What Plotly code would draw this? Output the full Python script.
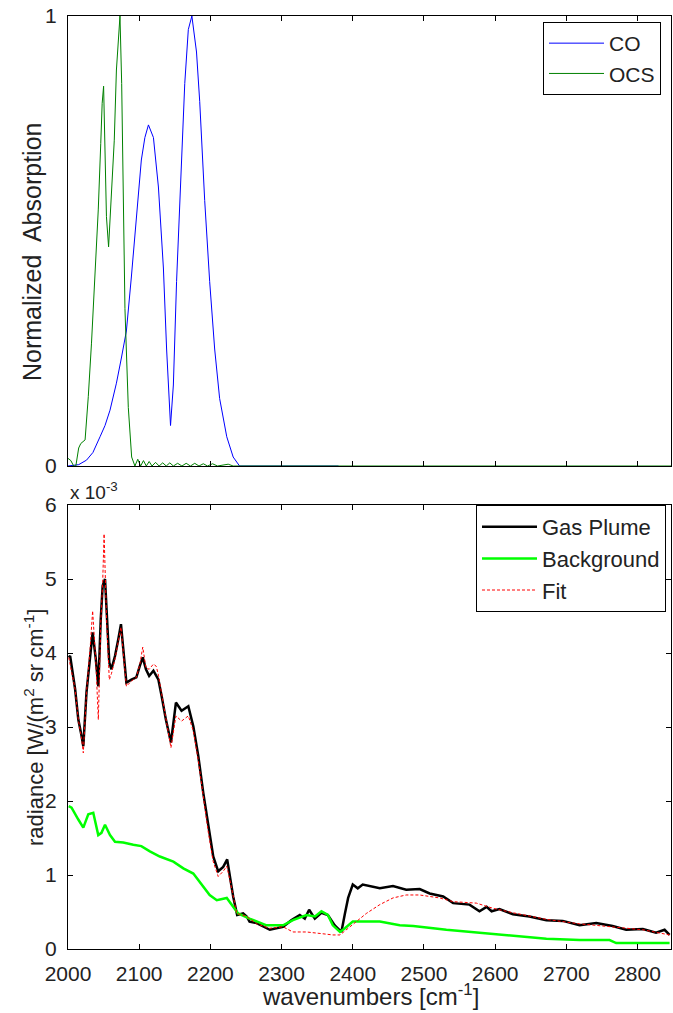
import plotly.graph_objects as go

# ---------------- Top panel data (normalized absorption) ----------------
co_wn = [2000, 2015, 2026, 2035, 2045, 2052, 2059, 2068, 2075, 2082, 2089, 2096, 2103, 2108,
         2113, 2120, 2127, 2134, 2138.5, 2144, 2148, 2152.5, 2159.5, 2164, 2169, 2174, 2180.5,
         2185, 2192, 2199, 2206, 2213, 2223, 2232, 2241, 2380]
co_abs = [0, 0.003, 0.013, 0.03, 0.065, 0.09, 0.124, 0.184, 0.24, 0.30, 0.42, 0.554, 0.68, 0.73,
          0.758, 0.73, 0.62, 0.44, 0.26, 0.09, 0.18, 0.41, 0.665, 0.85, 0.97, 1.0, 0.92,
          0.81, 0.59, 0.41, 0.26, 0.15, 0.065, 0.02, 0.0, 0.0]

ocs_wn = [2000, 2004, 2008, 2011, 2015, 2018, 2024, 2028.5, 2033, 2038, 2042.5, 2046, 2048, 2050,
          2052, 2054, 2057, 2060, 2062, 2065, 2068, 2070.6, 2073, 2075.4, 2077.7, 2080, 2084.7,
          2089.4, 2094, 2098, 2102, 2106, 2110, 2114, 2118, 2123, 2128, 2133, 2138, 2143, 2148,
          2154, 2160, 2166, 2172, 2178, 2184, 2190, 2196, 2203, 2210, 2225, 2232, 2847]
ocs_abs = [0.017, 0.012, 0, 0, 0.04, 0.05, 0.058, 0.154, 0.273, 0.42, 0.569, 0.717, 0.806, 0.844,
           0.717, 0.554, 0.487, 0.584, 0.658, 0.724, 0.88, 0.947, 1.0, 0.85, 0.6, 0.35, 0.13,
           0.02, 0, 0.015, 0, 0.012, 0, 0.01, 0, 0.008, 0, 0.007, 0, 0.007, 0,
           0.006, 0, 0.006, 0, 0.006, 0, 0.005, 0, 0.005, 0, 0.004, 0, 0]

# ---------------- Bottom panel data (radiance, x 10^-3) ----------------
plume_wn = [2001, 2003, 2010, 2014.5, 2019, 2021.5, 2026, 2031, 2034.6, 2039, 2042.6, 2046, 2048.7,
            2052, 2054, 2058, 2061, 2066, 2070.7, 2074.4, 2077.7, 2082, 2089, 2096, 2101, 2105,
            2109.5, 2114, 2120, 2127, 2131.5, 2137.5, 2144.6, 2151.6, 2159.5, 2169, 2176, 2183,
            2190, 2197, 2204, 2211, 2218, 2223.6, 2227, 2232, 2237.6, 2246, 2251, 2255, 2265,
            2283.5, 2302, 2314, 2325.6, 2332.6, 2338.7, 2346.7, 2356, 2365, 2374.7, 2384, 2389,
            2393.5, 2400, 2407, 2414, 2428.5, 2438, 2456.5, 2475, 2494, 2508, 2527, 2541, 2564,
            2578, 2588, 2595, 2606, 2625, 2648, 2672, 2695, 2718.6, 2742, 2765, 2784, 2807.5,
            2826, 2838, 2845]
plume_rad = [3.94, 3.96, 3.51, 3.10, 2.88, 2.74, 3.47, 4.0, 4.28, 3.92, 3.55, 4.46, 4.91,
             5.0, 4.55, 3.87, 3.78, 3.96, 4.19, 4.39, 4.05, 3.60, 3.64, 3.67, 3.83, 3.94,
             3.78, 3.69, 3.76, 3.64, 3.42, 3.10, 2.79, 3.33, 3.22, 3.28, 3.01, 2.61,
             2.11, 1.66, 1.25, 1.05, 1.11, 1.21, 0.98, 0.71, 0.46, 0.48, 0.44, 0.37, 0.35,
             0.26, 0.30, 0.39, 0.46, 0.41, 0.53, 0.41, 0.49, 0.46, 0.32, 0.23, 0.48,
             0.69, 0.87, 0.82, 0.87, 0.84, 0.82, 0.85, 0.80, 0.81, 0.75, 0.71, 0.62, 0.60,
             0.51, 0.57, 0.51, 0.54, 0.47, 0.44, 0.39, 0.38, 0.32, 0.35, 0.31, 0.26, 0.27,
             0.22, 0.26, 0.19]

bg_wn = [2001, 2005, 2014.5, 2021.5, 2028.5, 2035.5, 2042.5, 2047, 2052, 2059, 2066, 2077.6,
         2091.7, 2103, 2115, 2129, 2148, 2162, 2176, 2190, 2199, 2209, 2223, 2232, 2239, 2255,
         2279, 2302, 2316, 2335, 2347, 2356, 2365, 2372, 2382, 2389, 2400, 2419, 2438, 2466,
         2485, 2531.5, 2578, 2625, 2672, 2718.6, 2760.7, 2770, 2812, 2845]
bg_rad = [1.93, 1.91, 1.75, 1.64, 1.82, 1.84, 1.54, 1.57, 1.68, 1.54, 1.45, 1.44,
          1.41, 1.39, 1.32, 1.25, 1.18, 1.09, 1.02, 0.84, 0.73, 0.66, 0.69, 0.57, 0.48, 0.41,
          0.32, 0.32, 0.39, 0.46, 0.44, 0.51, 0.46, 0.32, 0.23, 0.28, 0.37, 0.37, 0.37, 0.32,
          0.31, 0.26, 0.22, 0.18, 0.14, 0.12, 0.12, 0.08, 0.08, 0.08]

fit_wn = [2001, 2010, 2014.5, 2019, 2021.5, 2026, 2031, 2034.6, 2039, 2042.6, 2046, 2048.7,
          2050.7, 2054, 2058, 2061, 2066, 2070.7, 2074.4, 2077.7, 2082, 2089, 2096, 2101, 2105,
          2109.5, 2114, 2120, 2124, 2127, 2131.5, 2137.5, 2144.6, 2151.6, 2159.5, 2169, 2176,
          2183, 2190, 2197, 2204, 2211, 2218, 2223, 2227, 2232, 2237, 2251, 2265, 2283, 2302,
          2316, 2335, 2354, 2372, 2382, 2391, 2405, 2419, 2438, 2456.5, 2475, 2494, 2522, 2541,
          2573.6, 2597, 2625, 2672, 2718.6, 2765, 2807.5, 2845]
fit_rad = [3.94, 3.51, 3.10, 2.85, 2.65, 3.47, 4.05, 4.57, 3.90, 3.10, 4.4, 4.95,
           5.61, 4.5, 3.64, 3.72, 3.92, 4.15, 4.35, 4.0, 3.55, 3.62, 3.67, 3.85, 4.08,
           3.80, 3.78, 3.85, 3.82, 3.70, 3.45, 3.10, 2.72, 3.15, 3.08, 3.15, 2.95,
           2.55, 2.05, 1.58, 1.18, 0.98, 1.05, 1.12, 0.95, 0.70, 0.48, 0.44, 0.34, 0.28, 0.30,
           0.23, 0.23, 0.21, 0.19, 0.19, 0.26, 0.37, 0.48, 0.60, 0.69, 0.73, 0.73, 0.69, 0.64,
           0.62, 0.55, 0.49, 0.40, 0.34, 0.30, 0.26, 0.19]

x_ticks = [2000, 2100, 2200, 2300, 2400, 2500, 2600, 2700, 2800]
rad_ticks = [0, 1, 2, 3, 4, 5, 6]

FONT = "Liberation Sans, Arial, sans-serif"
TXT = "#222222"

# layout geometry (pixels)
W, H = 673, 1013
ML, MR, MT, MB = 68, 2, 16, 64
PW = W - ML - MR
PH = H - MT - MB


def px_x(px):
    return (px - ML) / PW


def px_y(py):
    return (H - MB - py) / PH


fig = go.Figure()
fig.add_trace(go.Scatter(x=co_wn, y=co_abs, name="CO", mode="lines",
                         line=dict(color="#0000FF", width=1), xaxis="x", yaxis="y", legend="legend"))
fig.add_trace(go.Scatter(x=ocs_wn, y=ocs_abs, name="OCS", mode="lines",
                         line=dict(color="#008000", width=1), xaxis="x", yaxis="y", legend="legend"))

fig.add_trace(go.Scatter(x=plume_wn, y=plume_rad, name="Gas Plume", mode="lines",
                         line=dict(color="black", width=2.5), xaxis="x2", yaxis="y2", legend="legend2"))
fig.add_trace(go.Scatter(x=bg_wn, y=bg_rad, name="Background", mode="lines",
                         line=dict(color="#00FF00", width=2.5), xaxis="x2", yaxis="y2", legend="legend2"))
fig.add_trace(go.Scatter(x=fit_wn, y=fit_rad, name="Fit", mode="lines",
                         line=dict(color="#FF0000", width=1, dash="3px,2px"), xaxis="x2", yaxis="y2",
                         legend="legend2"))

axis_common = dict(showline=True, linecolor="black", linewidth=1, mirror="allticks",
                   ticks="inside", ticklen=5, tickcolor="black", showgrid=False, zeroline=False,
                   automargin=False, ticklabelstandoff=6,
                   tickfont=dict(family=FONT, size=21, color=TXT))

top_bottom = px_y(466)
bot_top = px_y(505)

fig.update_layout(
    width=W, height=H,
    margin=dict(l=ML, r=MR, t=MT, b=MB),
    paper_bgcolor="white", plot_bgcolor="white",
    font=dict(family=FONT, size=20, color=TXT),
    showlegend=True,
    xaxis=dict(domain=[0, 1], range=[2000, 2847], tickvals=x_ticks, showticklabels=False,
               anchor="y", **axis_common),
    yaxis=dict(domain=[top_bottom, 1], range=[0, 1], tickvals=[0, 1], anchor="x", **axis_common),
    xaxis2=dict(domain=[0, 1], range=[2000, 2847], tickvals=x_ticks, anchor="y2", **axis_common),
    yaxis2=dict(domain=[0, bot_top], range=[0, 6], tickvals=rad_ticks, anchor="x2", **axis_common),
    legend=dict(x=px_x(543), y=px_y(22), xanchor="left", yanchor="top",
                bgcolor="white", bordercolor="black", borderwidth=1,
                font=dict(family=FONT, size=21, color=TXT), tracegroupgap=0, itemwidth=55),
    legend2=dict(x=px_x(476), y=bot_top, xanchor="left", yanchor="top",
                 bgcolor="white", bordercolor="black", borderwidth=1,
                 font=dict(family=FONT, size=22, color=TXT), tracegroupgap=0, itemwidth=55),
    annotations=[
        dict(text="x 10<sup>-3</sup>", x=0, y=bot_top, xref="paper", yref="paper",
             xanchor="left", yanchor="bottom", showarrow=False, yshift=0,
             font=dict(family=FONT, size=19, color=TXT)),
        dict(text="Normalized  Absorption", x=px_x(32), y=px_y(252), xref="paper", yref="paper",
             xanchor="center", yanchor="middle", textangle=-90, showarrow=False,
             font=dict(family=FONT, size=25, color=TXT)),
        dict(text="radiance [W/(m<sup>2</sup> sr cm<sup>-1</sup>]", x=px_x(34), y=px_y(728),
             xref="paper", yref="paper", xanchor="center", yanchor="middle", textangle=-90,
             showarrow=False, font=dict(family=FONT, size=22, color=TXT)),
        dict(text="wavenumbers [cm<sup>-1</sup>]", x=px_x(370), y=px_y(995), xref="paper",
             yref="paper", xanchor="center", yanchor="middle", showarrow=False,
             font=dict(family=FONT, size=24, color=TXT)),
    ],
)

fig.write_html("out.html", config={"displayModeBar": False},
               post_script="document.body.style.margin='0';document.body.style.padding='0';")
